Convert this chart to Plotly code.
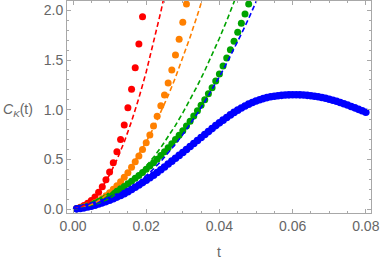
import plotly.graph_objects as go

# ---- data ----
t_pts = [i / 1000 for i in range(1, 81)]

red_t = t_pts[:19]
red_y = [0.006, 0.018, 0.036, 0.058, 0.085, 0.12, 0.168, 0.225, 0.295, 0.372,
         0.466, 0.577, 0.70, 0.846, 1.02, 1.205, 1.423, 1.662, 1.937]

orange_t = t_pts[:31]
orange_y = [0.003, 0.01, 0.02, 0.033, 0.048, 0.063, 0.082, 0.105, 0.133, 0.164,
            0.198, 0.235, 0.275, 0.32, 0.366, 0.42, 0.477, 0.534, 0.60, 0.668,
            0.745, 0.835, 0.935, 1.04, 1.148, 1.27, 1.40, 1.55, 1.71, 1.88, 2.064]

green_t = t_pts[:48]
green_y = [0.003, 0.01, 0.019, 0.03, 0.043, 0.058, 0.075, 0.093, 0.113, 0.134,
           0.156, 0.179, 0.203, 0.228, 0.254, 0.281, 0.309, 0.338, 0.368, 0.40,
           0.433, 0.467, 0.502, 0.539, 0.577, 0.616, 0.657, 0.699, 0.743, 0.789,
           0.836, 0.885, 0.936, 0.989, 1.044, 1.101, 1.16, 1.222, 1.29, 1.36,
           1.44, 1.52, 1.605, 1.69, 1.78, 1.87, 1.965, 2.064]

blue_t = t_pts
blue_y = [0.002, 0.006, 0.012, 0.02, 0.029, 0.039, 0.05, 0.062, 0.075, 0.089,
          0.104, 0.12, 0.137, 0.155, 0.175, 0.197, 0.219, 0.242, 0.266, 0.29,
          0.315, 0.341, 0.368, 0.396, 0.424, 0.453, 0.482, 0.511, 0.54, 0.57,
          0.60, 0.63, 0.66, 0.69, 0.72, 0.75, 0.78, 0.81, 0.84, 0.868,
          0.895, 0.922, 0.948, 0.973, 0.996, 1.018, 1.038, 1.056, 1.073, 1.088,
          1.101, 1.112, 1.122, 1.13, 1.136, 1.141, 1.145, 1.148, 1.15, 1.151,
          1.151, 1.15, 1.148, 1.145, 1.141, 1.136, 1.13, 1.123, 1.115, 1.106,
          1.096, 1.085, 1.073, 1.06, 1.047, 1.033, 1.019, 1.004, 0.99, 0.975]

red_dash_t = [0, 0.002, 0.004, 0.006, 0.008, 0.010, 0.012, 0.014, 0.016, 0.018,
              0.020, 0.022, 0.024, 0.026]
red_dash_y = [0, 0.0138, 0.0552, 0.124, 0.221, 0.345, 0.497, 0.676, 0.883, 1.118,
              1.38, 1.67, 1.987, 2.332]

orange_dash_t = [0, 0.002, 0.004, 0.006, 0.008, 0.010, 0.012, 0.014, 0.016, 0.018,
                 0.020, 0.022, 0.024, 0.026, 0.028, 0.030, 0.032, 0.034, 0.036]
orange_dash_y = [0, 0.0068, 0.027, 0.061, 0.108, 0.169, 0.243, 0.331, 0.433, 0.548,
                 0.676, 0.818, 0.973, 1.142, 1.325, 1.521, 1.731, 1.954, 2.19]

green_dash_t = [0, 0.002, 0.004, 0.006, 0.008, 0.010, 0.012, 0.014, 0.016, 0.018,
                0.020, 0.022, 0.024, 0.026, 0.028, 0.030, 0.032, 0.034, 0.036, 0.038,
                0.040, 0.042, 0.044, 0.046]
green_dash_y = [0, 0.0043, 0.0172, 0.0387, 0.0688, 0.1075, 0.155, 0.211, 0.275, 0.348,
                0.43, 0.52, 0.619, 0.727, 0.843, 0.968, 1.101, 1.243, 1.393, 1.552,
                1.72, 1.896, 2.081, 2.275]

blue_dash_t = [0, 0.002, 0.004, 0.006, 0.008, 0.010, 0.012, 0.014, 0.016, 0.018,
               0.020, 0.022, 0.024, 0.026, 0.028, 0.030, 0.032, 0.034, 0.036, 0.038,
               0.040, 0.042, 0.044, 0.046, 0.048, 0.050, 0.052]
blue_dash_y = [0, 0.0033, 0.0133, 0.03, 0.0533, 0.0833, 0.12, 0.163, 0.213, 0.27,
               0.333, 0.403, 0.48, 0.563, 0.653, 0.75, 0.853, 0.963, 1.08, 1.203,
               1.333, 1.469, 1.613, 1.763, 1.919, 2.083, 2.252]

RED = "#FF0000"
ORANGE = "#FF8000"
GREEN = "#00A300"
BLUE = "#0000FF"

fig = go.Figure()
for tx, ty, c, s in [(red_t, red_y, RED, 7), (orange_t, orange_y, ORANGE, 7),
                     (green_t, green_y, GREEN, 7), (blue_t, blue_y, BLUE, 7.6)]:
    fig.add_trace(go.Scatter(x=tx, y=ty, mode="markers",
                             marker=dict(color=c, size=s, line=dict(width=0)),
                             showlegend=False, cliponaxis=True))
for tx, ty, c in [(red_dash_t, red_dash_y, RED), (orange_dash_t, orange_dash_y, ORANGE),
                  (green_dash_t, green_dash_y, GREEN), (blue_dash_t, blue_dash_y, BLUE)]:
    fig.add_trace(go.Scatter(x=tx, y=ty, mode="lines",
                             line=dict(color=c, width=1.6, dash="5px,3px"),
                             showlegend=False))

FRAME = "#A8A8A8"
LABEL = "#666666"
FONT = "Liberation Sans, Arial, sans-serif"

fig.update_layout(
    width=382, height=261,
    margin=dict(l=67, r=11, t=1, b=48),
    paper_bgcolor="white", plot_bgcolor="white",
    font=dict(family=FONT, size=14, color=LABEL),
    xaxis=dict(range=[-0.00164, 0.08142], tick0=0, dtick=0.02, tickformat=".2f",
               ticks="inside", ticklen=4, tickwidth=1, tickcolor=FRAME,
               showline=True, linecolor=FRAME, linewidth=1, mirror="allticks",
               showgrid=False, zeroline=False,
               minor=dict(ticks="inside", dtick=0.005, ticklen=2, tickcolor=FRAME, showgrid=False),
               tickfont=dict(size=14, color=LABEL), ticklabelstandoff=0),
    yaxis=dict(range=[-0.04, 2.095], tick0=0, dtick=0.5, tickformat=".1f",
               ticks="inside", ticklen=4, tickwidth=1, tickcolor=FRAME,
               showline=True, linecolor=FRAME, linewidth=1, mirror="allticks",
               showgrid=False, zeroline=False,
               minor=dict(ticks="inside", dtick=0.1, ticklen=2, tickcolor=FRAME, showgrid=False),
               tickfont=dict(size=14, color=LABEL), ticklabelstandoff=0),
    annotations=[
        dict(text="<i>C</i><sub><i>K</i></sub>(t)", xref="paper", yref="paper",
             x=-0.217, y=0.486, xanchor="left", yanchor="middle", showarrow=False,
             font=dict(size=14, color=LABEL, family=FONT)),
        dict(text="t", xref="paper", yref="paper", x=0.5, y=-0.1825,
             xanchor="center", yanchor="middle", showarrow=False,
             font=dict(size=14, color=LABEL, family=FONT)),
    ],
)

fig.write_html("out.html", config={"displayModeBar": False},
               post_script="document.body.style.margin='0';document.body.style.padding='0';")
